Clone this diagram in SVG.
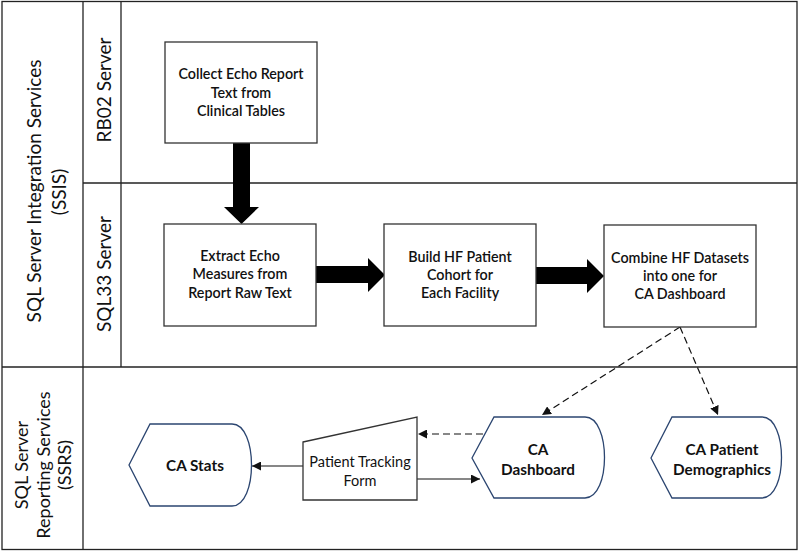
<svg xmlns="http://www.w3.org/2000/svg" width="800" height="552" viewBox="0 0 800 552">
<defs>
<style>
.frame{fill:none;stroke:#222;stroke-width:1.3}
.box{fill:#fff;stroke:#333;stroke-width:1.3}
.disp{fill:#fff;stroke:#2b4570;stroke-width:1.3}
.t{font-family:Lato,"Liberation Sans",sans-serif;font-size:14.3px;font-weight:600;fill:#111;text-anchor:middle}
.tn{font-family:Lato,"Liberation Sans",sans-serif;font-size:14.5px;font-weight:normal;fill:#111;text-anchor:middle}
.tb{font-family:Lato,"Liberation Sans",sans-serif;font-size:15.3px;font-weight:bold;fill:#111;text-anchor:middle}
.lab{font-family:Lato,"Liberation Sans",sans-serif;font-size:19px;fill:#111;text-anchor:middle;dominant-baseline:central}
.lab2{font-family:Lato,"Liberation Sans",sans-serif;font-size:18px;fill:#111;text-anchor:middle;dominant-baseline:central}
.big{fill:#000;stroke:none}
.dash{fill:none;stroke:#111;stroke-width:1.2;stroke-dasharray:7,4}
.solid{fill:none;stroke:#111;stroke-width:1.2}
</style>
<marker id="ah" viewBox="0 0 10 10" refX="10" refY="5" markerWidth="9" markerHeight="9" markerUnits="userSpaceOnUse" orient="auto">
<path d="M0,0 L10,5 L0,10 Z" fill="#111"/>
</marker>
</defs>
<rect width="800" height="552" fill="#fff"/>
<g id="lanes">
<rect class="frame" x="2" y="1.5" width="795" height="548"/>
<line class="frame" x1="2" y1="367" x2="797" y2="367"/>
<line class="frame" x1="83" y1="1.5" x2="83" y2="549.5"/>
<line class="frame" x1="121" y1="1.5" x2="121" y2="367"/>
<line class="frame" x1="83" y1="183" x2="797" y2="183"/>
<text class="lab" transform="translate(33,191) rotate(-90)">SQL Server Integration Services</text>
<text class="lab" transform="translate(58,192) rotate(-90)">(SSIS)</text>
<text class="lab" transform="translate(103,90) rotate(-90)">RB02 Server</text>
<text class="lab" transform="translate(103,274) rotate(-90)">SQL33 Server</text>
<text class="lab2" transform="translate(21,465) rotate(-90)">SQL Server</text>
<text class="lab2" transform="translate(43,465) rotate(-90)">Reporting Services</text>
<text class="lab2" transform="translate(64,465) rotate(-90)">(SSRS)</text>
</g>
<g id="connectors">
<polygon class="big" points="233,143 250,143 250,207 259,207 241.5,224 224,207 233,207"/>
<polygon class="big" points="316,266 368,266 368,258 385,275 368,292 368,283 316,283"/>
<polygon class="big" points="536,267 587,267 587,259 604,276 587,293 587,284 536,284"/>
<line class="dash" x1="680" y1="327" x2="542" y2="415" marker-end="url(#ah)"/>
<line class="dash" x1="680" y1="327" x2="718" y2="415" marker-end="url(#ah)"/>
<line class="dash" x1="483" y1="434" x2="418" y2="434" marker-end="url(#ah)"/>
<line class="solid" x1="417" y1="479" x2="480" y2="479" marker-end="url(#ah)"/>
<line class="solid" x1="303" y1="466" x2="252" y2="466" marker-end="url(#ah)"/>
</g>
<g id="collect">
<rect class="box" x="165" y="42" width="152" height="101"/>
<text class="t" x="241" y="79">Collect Echo Report</text>
<text class="t" x="241" y="98">Text from</text>
<text class="t" x="241" y="116">Clinical Tables</text>
</g>
<g id="extract">
<rect class="box" x="164" y="224" width="152" height="102"/>
<text class="t" x="240" y="261">Extract Echo</text>
<text class="t" x="240" y="279">Measures from</text>
<text class="t" x="240" y="298">Report Raw Text</text>
</g>
<g id="build">
<rect class="box" x="384" y="224" width="152" height="102"/>
<text class="t" x="460" y="262">Build HF Patient</text>
<text class="t" x="460" y="280">Cohort for</text>
<text class="t" x="460" y="298">Each Facility</text>
</g>
<g id="combine">
<rect class="box" x="604" y="225" width="152" height="102"/>
<text class="t" x="680" y="263">Combine HF Datasets</text>
<text class="t" x="680" y="281">into one for</text>
<text class="t" x="680" y="299">CA Dashboard</text>
</g>
<g id="castats">
<path class="disp" d="M129,465 L150,424 L232,424 C258,424 258,506 232,506 L150,506 Z"/>
<text class="tb" x="195" y="471">CA Stats</text>
</g>
<g id="tracking">
<polygon class="box" points="303,442 417,417 417,500 303,500"/>
<text class="tn" x="360" y="467">Patient Tracking</text>
<text class="tn" x="360" y="486">Form</text>
</g>
<g id="dashboard">
<path class="disp" d="M472,458 L494,417 L585,417 C611,417 611,498 585,498 L494,498 Z"/>
<text class="tb" x="538" y="455">CA</text>
<text class="tb" x="538" y="475">Dashboard</text>
</g>
<g id="demographics">
<path class="disp" d="M651,458 L672,417 L762,417 C788,417 788,498 762,498 L672,498 Z"/>
<text class="tb" x="722" y="455">CA Patient</text>
<text class="tb" x="722" y="475">Demographics</text>
</g>
</svg>
